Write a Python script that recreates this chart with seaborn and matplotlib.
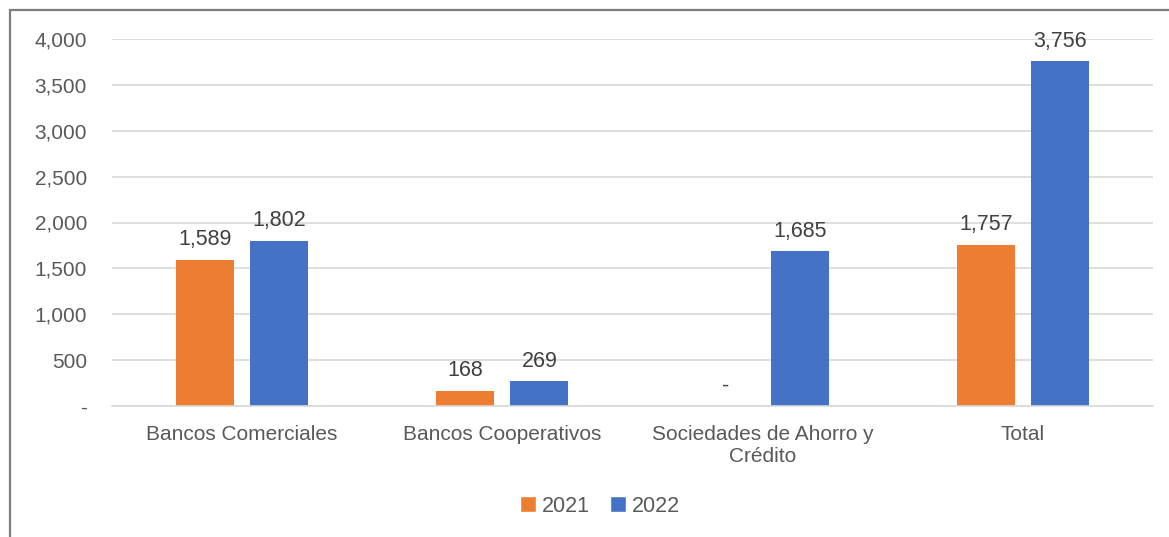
import matplotlib
matplotlib.use("Agg")
import matplotlib.pyplot as plt
import seaborn as sns
import pandas as pd
from matplotlib.patches import Rectangle, Patch
from matplotlib.ticker import FuncFormatter

categories = ["Bancos Comerciales", "Bancos Cooperativos", "Sociedades de Ahorro y\nCrédito", "Total"]
years = ["2021", "2022"]
values_2021 = [1589, 168, 0, 1757]
values_2022 = [1802, 269, 1685, 3756]
yticks = [0, 500, 1000, 1500, 2000, 2500, 3000, 3500, 4000]
colors = {"2021": "#ED7D31", "2022": "#4472C4"}

df = pd.DataFrame({
    "cat": categories * 2,
    "year": ["2021"] * 4 + ["2022"] * 4,
    "val": values_2021 + values_2022,
})

sns.set_theme(style="white")
plt.rcParams["font.family"] = ["Liberation Sans", "DejaVu Sans"]
txt = "#595959"

fig = plt.figure(figsize=(11.69, 5.37), dpi=100)
ax = fig.add_axes([112/1169, 1-406/537, (1153-112)/1169, (406-39)/537])

sns.barplot(data=df, x="cat", y="val", hue="year", palette=colors, ax=ax,
            width=0.569, gap=0.216, saturation=1, legend=False, errorbar=None,
            linewidth=0)

ax.set_ylim(0, 4000)
ax.set_xlim(-0.5, 3.5)
ax.set_yticks(yticks)
ax.yaxis.set_major_formatter(FuncFormatter(lambda v, p: "-" if v == 0 else f"{int(v):,}"))
ax.grid(axis="y", color="#D9D9D9", linewidth=1.2)
ax.set_axisbelow(True)
for s in ["top", "right", "left"]:
    ax.spines[s].set_visible(False)
ax.spines["bottom"].set_color("#D9D9D9")
ax.spines["bottom"].set_linewidth(1.2)
ax.tick_params(axis="both", length=0, labelsize=15, colors=txt)
ax.tick_params(axis="x", pad=14)
ax.tick_params(axis="y", pad=18)
ax.set_xlabel("")
ax.set_ylabel("")

for container in ax.containers:
    labels = ["-" if b.get_height() == 0 else f"{int(round(b.get_height())):,}" for b in container]
    ax.bar_label(container, labels=labels, padding=7, fontsize=15.5, color="#404040")

handles = [Patch(facecolor=colors[y], label=y) for y in years]
fig.legend(handles=handles, loc="center", bbox_to_anchor=(600/1169, 1-506/537), ncol=2,
           frameon=False, fontsize=15.5, handlelength=0.75, handleheight=0.75,
           handletextpad=0.3, columnspacing=0.9, labelcolor=txt)

fig.patches.append(Rectangle((10/1169, -0.1), 1.2, 1-9.5/537+0.1, transform=fig.transFigure,
                             fill=False, edgecolor="#7F7F7F", linewidth=1.6))

fig.savefig("out.png", dpi=100)
